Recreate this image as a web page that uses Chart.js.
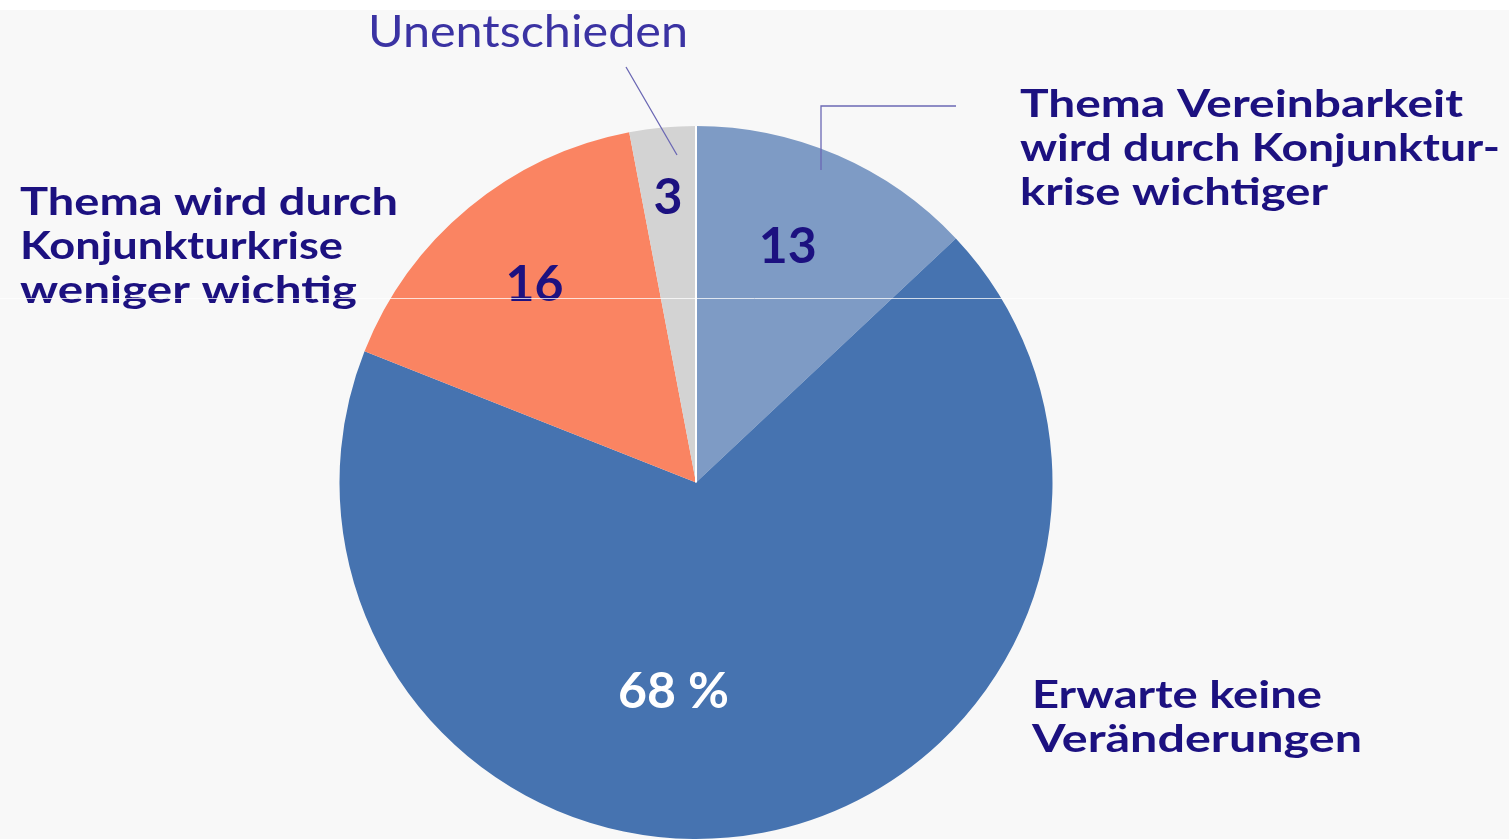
<!DOCTYPE html>
<html lang="de">
<head>
<meta charset="utf-8">
<title>Vereinbarkeit und Konjunkturkrise</title>
<script src="https://cdn.jsdelivr.net/npm/chart.js@4"></script>
<style>
    html, body { margin: 0; padding: 0; background: #f7f7f7; }
    canvas { display: block; }
</style>
</head>
<body>
<canvas id="chartPie" width="1509" height="839"></canvas>
<script>
// ---- Daten ----
const categories = [
    'Thema Vereinbarkeit wird durch Konjunkturkrise wichtiger',
    'Erwarte keine Veränderungen',
    'Thema wird durch Konjunkturkrise weniger wichtig',
    'Unentschieden'
];
const values = [13, 68, 16, 3];
const valueLabels = ['13', '68 %', '16', '3'];

// ---- Stil ----
const sliceColors = ['#7e9bc5', '#4673b0', '#fa8462', '#d3d3d3'];
const valueColors = ['#1c1180', '#ffffff', '#1c1180', '#1c1180'];
const labelRadius = [0.715, 0.584, 0.72, 0.807];   // Anteil des Radius
const labelShiftDeg = [-2.3, 17, 0.6, -0.2];
const textColor = '#1c1180';
const labelFont = "Lato, 'Noto Sans', sans-serif";

// außenliegende Beschriftungen (Zeilen, x, Grundlinie der ersten Zeile, Zeilenbreiten)
const outerLabels = [
    { lines: ['Thema Vereinbarkeit', 'wird durch Konjunktur-', 'krise wichtiger'], x: 1020, y: 117, widths: [443, 480, 308] },
    { lines: ['Erwarte keine', 'Veränderungen'], x: 1032, y: 708, widths: [290, 330] },
    { lines: ['Thema wird durch', 'Konjunkturkrise', 'weniger wichtig'], x: 20, y: 215, widths: [378, 323, 337] }
];

// Text horizontal auf Zielbreite strecken
function fitText(ctx, text, x, y, width) {
    const w = ctx.measureText(text).width;
    ctx.save();
    ctx.translate(x, y);
    if (width) ctx.scale(width / w, 1);
    ctx.fillText(text, 0, 0);
    ctx.restore();
}

const pieDecor = {
    id: 'pieDecor',
    beforeDraw(chart) {
        const ctx = chart.ctx;
        ctx.save();
        ctx.fillStyle = '#f8f8f8';
        ctx.fillRect(0, 0, chart.width, chart.height);
        ctx.fillStyle = '#ffffff';
        ctx.fillRect(0, 0, chart.width, 10);
        ctx.restore();
    },
    afterDatasetsDraw(chart) {
        const ctx = chart.ctx;
        const arcs = chart.getDatasetMeta(0).data;
        ctx.save();

        // weiße Trennlinie zwischen "Unentschieden" und erstem Segment
        const a0 = arcs[0];
        ctx.strokeStyle = '#ffffff';
        ctx.lineWidth = 2;
        ctx.beginPath();
        ctx.moveTo(a0.x, a0.y);
        ctx.lineTo(a0.x + Math.cos(a0.startAngle) * a0.outerRadius, a0.y + Math.sin(a0.startAngle) * a0.outerRadius);
        ctx.stroke();

        // Werte in den Segmenten
        ctx.font = "bold 50px " + labelFont;
        ctx.textAlign = 'center';
        ctx.textBaseline = 'middle';
        arcs.forEach((arc, i) => {
            const mid = (arc.startAngle + arc.endAngle) / 2 + labelShiftDeg[i] * Math.PI / 180;
            const r = arc.outerRadius * labelRadius[i];
            ctx.fillStyle = valueColors[i];
            ctx.fillText(valueLabels[i], arc.x + Math.cos(mid) * r, arc.y + Math.sin(mid) * r + 2);
        });

        // Außenbeschriftungen
        ctx.textAlign = 'left';
        ctx.textBaseline = 'alphabetic';
        ctx.fillStyle = textColor;
        ctx.font = "bold 38px " + labelFont;
        outerLabels.forEach(lbl => {
            lbl.lines.forEach((line, j) => {
                fitText(ctx, line, lbl.x, lbl.y + j * 44, lbl.widths[j]);
            });
        });

        ctx.fillStyle = '#3b33a3';
        ctx.font = "44px " + labelFont;
        fitText(ctx, 'Unentschieden', 368, 47, 320);

        // Hinweislinien
        ctx.strokeStyle = '#6b68b4';
        ctx.lineWidth = 1.3;
        ctx.beginPath();
        ctx.moveTo(626, 67);
        ctx.lineTo(677, 155);
        ctx.moveTo(956, 106);
        ctx.lineTo(821, 106);
        ctx.lineTo(821, 170);
        ctx.stroke();

        // heller Scan-Streifen
        ctx.strokeStyle = 'rgba(255,255,255,0.75)';
        ctx.lineWidth = 1;
        ctx.beginPath();
        ctx.moveTo(0, 298.5);
        ctx.lineTo(chart.width, 298.5);
        ctx.stroke();
        ctx.restore();
    }
};

new Chart(document.getElementById('chartPie'), {
    type: 'pie',
    data: {
        labels: categories,
        datasets: [{
            data: values,
            backgroundColor: sliceColors,
            borderWidth: 0,
            hoverOffset: 0
        }]
    },
    options: {
        responsive: false,
        animation: false,
        events: [],
        layout: { padding: { left: 339, right: 456, top: 126, bottom: 0 } },
        plugins: {
            legend: { display: false },
            tooltip: { enabled: false }
        }
    },
    plugins: [pieDecor]
});
</script>
</body>
</html>
